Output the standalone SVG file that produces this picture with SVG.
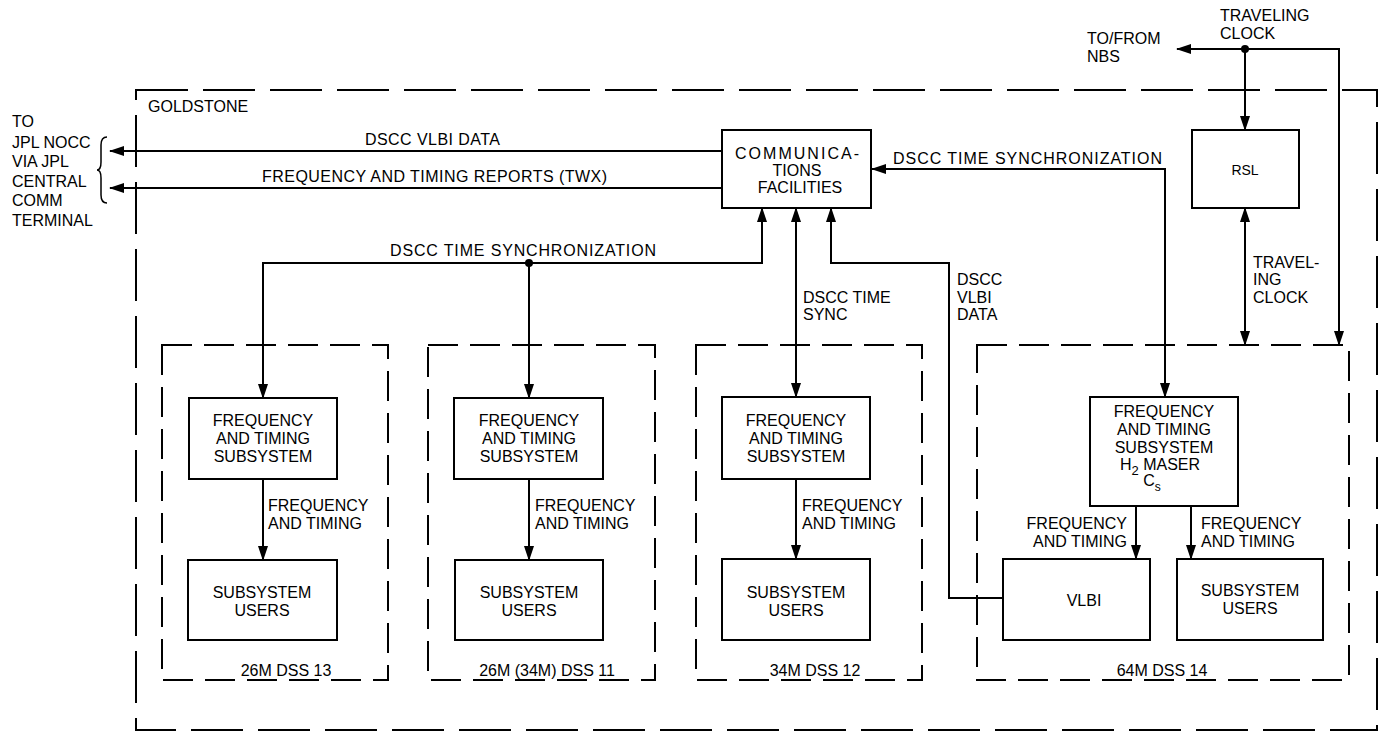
<svg xmlns="http://www.w3.org/2000/svg" width="1382" height="733" viewBox="0 0 1382 733">
<defs>
<marker id="ah" viewBox="0 0 15 10" refX="14" refY="5" markerWidth="15" markerHeight="10" markerUnits="userSpaceOnUse" orient="auto-start-reverse">
<path d="M0,0 L15,5 L0,10 z" fill="#000"/>
</marker>
<style>
text{font-family:"Liberation Sans",Arial,sans-serif;font-size:16px;fill:#000}
.c{text-anchor:middle}
.e{text-anchor:end}
.box{fill:#fff;stroke:#000;stroke-width:2}
.outer{fill:none;stroke:#000;stroke-width:2;stroke-dasharray:52 15}
.stn{fill:none;stroke:#000;stroke-width:2;stroke-dasharray:30 12}
.ln{fill:none;stroke:#000;stroke-width:2}
.ar{fill:none;stroke:#000;stroke-width:2;marker-end:url(#ah)}
.ar2{fill:none;stroke:#000;stroke-width:2;marker-start:url(#ah);marker-end:url(#ah)}
.ars{fill:none;stroke:#000;stroke-width:2;marker-start:url(#ah)}
</style>
</defs>
<rect width="1382" height="733" fill="#fff"/>

<g id="goldstone">
<rect class="outer" x="136" y="90" width="1241" height="640"/>
<text x="148" y="112">GOLDSTONE</text>
</g>

<g id="jpl-label">
<text x="12" y="127">TO</text>
<text x="12" y="148">JPL NOCC</text>
<text x="12" y="167">VIA JPL</text>
<text x="12" y="187">CENTRAL</text>
<text x="12" y="206">COMM</text>
<text x="12" y="226">TERMINAL</text>
<path class="ln" style="stroke-width:1.5" d="M107,137 Q101,137 101,145 L101,162 Q101,170 97,170 Q101,170 101,178 L101,195 Q101,203 107,203"/>
</g>

<g id="nbs-label">
<text x="1087" y="44">TO/FROM</text>
<text x="1087" y="62">NBS</text>
<text x="1220" y="21">TRAVELING</text>
<text x="1220" y="39">CLOCK</text>
</g>

<g id="dss13">
<rect class="stn" x="162" y="345" width="226" height="335"/>
<text class="c" x="286" y="676">26M DSS 13</text>
</g>
<g id="dss11">
<rect class="stn" x="428" y="345" width="227" height="335"/>
<text class="c" x="547" y="676">26M (34M) DSS 11</text>
</g>
<g id="dss12">
<rect class="stn" x="696" y="345" width="226" height="335"/>
<text class="c" x="815" y="676">34M DSS 12</text>
</g>
<g id="dss14">
<rect class="stn" x="977" y="345" width="372" height="335"/>
<text class="c" x="1162" y="676">64M DSS 14</text>
</g>

<g id="comms">
<rect class="box" x="722" y="130" width="149" height="78"/>
<text x="735" y="159" textLength="124" lengthAdjust="spacing">COMMUNICA-</text>
<text class="c" x="797" y="176">TIONS</text>
<text class="c" x="800" y="193">FACILITIES</text>
</g>

<g id="rsl">
<rect class="box" x="1192" y="130" width="107" height="78"/>
<text class="c" x="1245" y="175" style="font-size:14px">RSL</text>
</g>

<g id="fts13">
<rect class="box" x="189" y="398" width="148" height="81"/>
<text class="c" x="263" y="426">FREQUENCY</text>
<text class="c" x="263" y="444">AND TIMING</text>
<text class="c" x="263" y="462">SUBSYSTEM</text>
</g>
<g id="fts11">
<rect class="box" x="454" y="398" width="149" height="81"/>
<text class="c" x="529" y="426">FREQUENCY</text>
<text class="c" x="529" y="444">AND TIMING</text>
<text class="c" x="529" y="462">SUBSYSTEM</text>
</g>
<g id="fts12">
<rect class="box" x="722" y="397" width="148" height="82"/>
<text class="c" x="796" y="426">FREQUENCY</text>
<text class="c" x="796" y="444">AND TIMING</text>
<text class="c" x="796" y="462">SUBSYSTEM</text>
</g>
<g id="fts14">
<rect class="box" x="1090" y="397" width="148" height="109"/>
<text class="c" x="1164" y="417">FREQUENCY</text>
<text class="c" x="1164" y="435">AND TIMING</text>
<text class="c" x="1164" y="453">SUBSYSTEM</text>
<text class="c" x="1160" y="470">H<tspan dy="5" style="font-size:13px">2</tspan><tspan dy="-5"> MASER</tspan></text>
<text class="c" x="1152" y="486">C<tspan dy="5" style="font-size:12px">s</tspan></text>
</g>

<g id="users13">
<rect class="box" x="188" y="560" width="149" height="80"/>
<text class="c" x="262" y="598">SUBSYSTEM</text>
<text class="c" x="262" y="616">USERS</text>
</g>
<g id="users11">
<rect class="box" x="455" y="560" width="148" height="80"/>
<text class="c" x="529" y="598">SUBSYSTEM</text>
<text class="c" x="529" y="616">USERS</text>
</g>
<g id="users12">
<rect class="box" x="722" y="559" width="148" height="81"/>
<text class="c" x="796" y="598">SUBSYSTEM</text>
<text class="c" x="796" y="616">USERS</text>
</g>
<g id="vlbi">
<rect class="box" x="1003" y="559" width="147" height="81"/>
<text class="c" x="1084" y="606">VLBI</text>
</g>
<g id="users14">
<rect class="box" x="1177" y="559" width="146" height="81"/>
<text class="c" x="1250" y="596">SUBSYSTEM</text>
<text class="c" x="1250" y="614">USERS</text>
</g>

<g id="connectors">
<path class="ar" d="M722,151 H110"/>
<path class="ar" d="M722,188 H110"/>
<text x="365" y="145" textLength="135" lengthAdjust="spacing">DSCC VLBI DATA</text>
<text x="262" y="182" textLength="345" lengthAdjust="spacing">FREQUENCY AND TIMING REPORTS (TWX)</text>

<path class="ar2" d="M872,169 H1165 V397"/>
<text x="893" y="164" textLength="269" lengthAdjust="spacing">DSCC TIME SYNCHRONIZATION</text>

<path class="ar2" d="M762,208 V263 H263 V398"/>
<path class="ar" d="M529,263 V398"/>
<circle cx="529" cy="263" r="4" fill="#000"/>
<text x="390" y="256" textLength="266" lengthAdjust="spacing">DSCC TIME SYNCHRONIZATION</text>

<path class="ar2" d="M796,208 V397"/>
<text x="803" y="303">DSCC TIME</text>
<text x="803" y="320">SYNC</text>

<path class="ars" d="M831,208 V263 H949 V598 H1003"/>
<text x="957" y="285">DSCC</text>
<text x="957" y="303">VLBI</text>
<text x="957" y="320">DATA</text>

<path class="ar" d="M1245,49 H1177"/>
<path class="ar" d="M1245,49 V130"/>
<path class="ar" d="M1245,49 H1339 V345"/>
<circle cx="1245" cy="49" r="4" fill="#000"/>

<path class="ar2" d="M1245,208 V345"/>
<text x="1253" y="268">TRAVEL-</text>
<text x="1253" y="285">ING</text>
<text x="1253" y="303">CLOCK</text>

<path class="ar" d="M263,479 V560"/>
<text x="268" y="511">FREQUENCY</text>
<text x="268" y="529">AND TIMING</text>
<path class="ar" d="M529,479 V560"/>
<text x="535" y="511">FREQUENCY</text>
<text x="535" y="529">AND TIMING</text>
<path class="ar" d="M796,479 V559"/>
<text x="802" y="511">FREQUENCY</text>
<text x="802" y="529">AND TIMING</text>

<path class="ar" d="M1136,506 V559"/>
<text class="e" x="1127" y="529">FREQUENCY</text>
<text class="e" x="1127" y="547">AND TIMING</text>
<path class="ar" d="M1191,506 V559"/>
<text x="1201" y="529">FREQUENCY</text>
<text x="1201" y="547">AND TIMING</text>
</g>
</svg>
